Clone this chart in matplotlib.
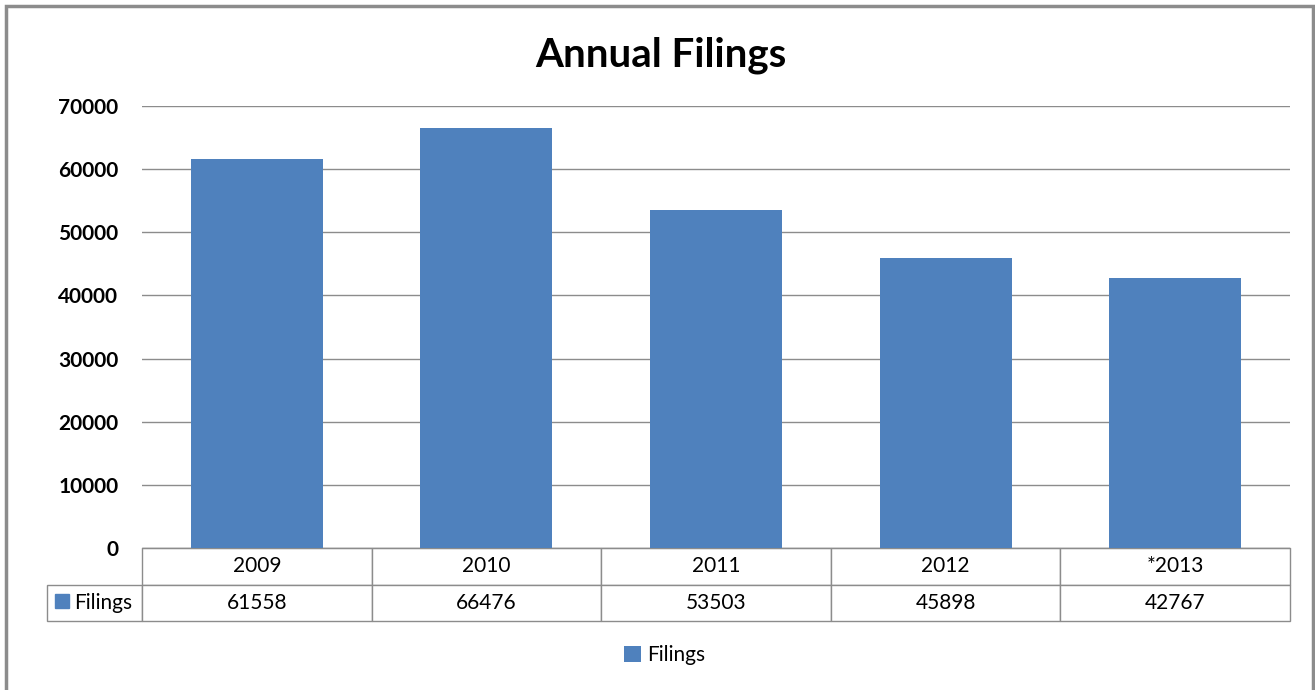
import matplotlib.pyplot as plt
from matplotlib.patches import Rectangle

# chart data
years = ["2009", "2010", "2011", "2012", "*2013"]
filings = [61558, 66476, 53503, 45898, 42767]
series_name = "Filings"
y_ticks = [0, 10000, 20000, 30000, 40000, 50000, 60000, 70000]

bar_color = "#4F81BD"
grid_color = "#8C8C8C"

plt.rcParams["font.family"] = ["Lato", "DejaVu Sans"]

fig = plt.figure(figsize=(13.15, 6.9), dpi=100)
ax = fig.add_axes([142 / 1315, 1 - 548 / 690, 1148 / 1315, 442 / 690])

x = list(range(len(years)))
ax.bar(x, filings, width=0.575, color=bar_color, zorder=3, label=series_name)

ax.set_xlim(-0.5, len(years) - 0.5)
ax.set_ylim(0, 70000)
ax.set_yticks(y_ticks)
ax.set_yticklabels([str(t) for t in y_ticks], fontsize=15, fontweight="bold")
ax.tick_params(axis="y", length=0, pad=17)
ax.set_xticks([])
ax.yaxis.grid(True, color=grid_color, linewidth=1, zorder=0)
for s in ["top", "right", "left"]:
    ax.spines[s].set_visible(False)
ax.spines["bottom"].set_color(grid_color)

# data table under the axis
label_w = 95 / 1148
col_w = 1 / len(years)
cell_text = [[""] + years, [""] + [str(v) for v in filings]]
tbl = ax.table(cellText=cell_text,
               colWidths=[label_w] + [col_w] * len(years),
               cellLoc="center",
               bbox=[-label_w, -73 / 442, 1 + label_w, 73 / 442])
tbl.auto_set_font_size(False)
for (r, c), cell in tbl.get_celld().items():
    cell.set_edgecolor(grid_color)
    cell.set_linewidth(1)
    cell.get_text().set_fontsize(15)
    if r == 0 and c == 0:
        cell.visible_edges = ""

# row label with its legend key
ax.add_patch(Rectangle((-label_w + 8 / 1148, -60 / 442), 14 / 1148, 14 / 442,
                       transform=ax.transAxes, color=bar_color, clip_on=False))
ax.text(-label_w + 27 / 1148, -55 / 442, series_name, transform=ax.transAxes,
        ha="left", va="center", fontsize=15)

fig.text(661 / 1315, 1 - 55 / 690, "Annual Filings", ha="center", va="center",
         fontsize=29, fontweight="bold")

fig.legend(loc="center", bbox_to_anchor=(665 / 1315, 1 - 655 / 690), frameon=False,
           fontsize=15, handlelength=0.8, handleheight=0.8, handletextpad=0.3)

# outer chart border
fig.patches.append(Rectangle((6 / 1315, -0.02), 1307 / 1315, 1 - 6 / 690 + 0.02,
                             transform=fig.transFigure, fill=False,
                             edgecolor="#8C8C8C", linewidth=2.5))

fig.savefig("out.png", dpi=100)
